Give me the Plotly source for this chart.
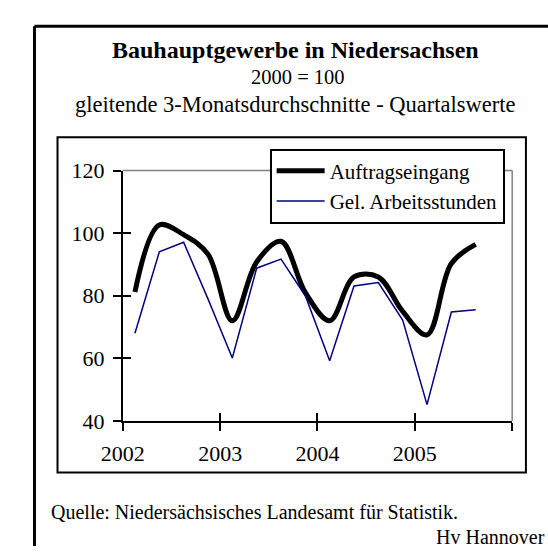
import plotly.graph_objects as go

# ---- data ----
quarters = ["2002 Q1", "2002 Q2", "2002 Q3", "2002 Q4",
            "2003 Q1", "2003 Q2", "2003 Q3", "2003 Q4",
            "2004 Q1", "2004 Q2", "2004 Q3", "2004 Q4",
            "2005 Q1", "2005 Q2", "2005 Q3"]
auftragseingang = [81.2, 102.6, 99.5, 93.3,
                   72.0, 90.8, 97.4, 81.0,
                   72.0, 86.0, 86.0, 75.0,
                   67.5, 90.3, 96.4]
arbeitsstunden = [68.0, 94.0, 97.1, 79.0,
                  60.1, 88.8, 91.7, 80.0,
                  59.2, 83.1, 84.2, 72.2,
                  45.2, 74.8, 75.5]
year_ticks = [2002, 2003, 2004, 2005, 2006]
year_labels = ["2002", "2003", "2004", "2005", ""]
y_ticks = [40, 60, 80, 100, 120]

# numeric position of each quarter (centred in its quarter slot)
xpos = [int(q[:4]) + (int(q[-1]) - 0.5) / 4 for q in quarters]

W, H = 548, 559
FONT = "Liberation Serif, Times New Roman, serif"


def px(x):
    return x / W


def py(y):
    return 1 - y / H


fig = go.Figure()
fig.add_trace(go.Scatter(
    x=xpos, y=auftragseingang, name="Auftragseingang", mode="lines",
    line=dict(color="black", width=5, shape="spline", smoothing=1.0),
))
fig.add_trace(go.Scatter(
    x=xpos, y=arbeitsstunden, name="Gel. Arbeitsstunden", mode="lines",
    line=dict(color="#000080", width=1.5),
))
# helper trace so that the overlaying axes (inner tick halves) are drawn
fig.add_trace(go.Scatter(x=[], y=[], xaxis="x2", yaxis="y2",
                         showlegend=False, hoverinfo="skip"))

x0p, x1p = 105, 510.7
y0p, y1p = 166, 428
xdom = [px(x0p), px(x1p)]
ydom = [py(y1p), py(y0p)]

axis_common = dict(showgrid=False, zeroline=False, linecolor="black",
                   linewidth=2, showline=True, tickcolor="black",
                   tickwidth=2, ticklen=8,
                   tickfont=dict(family=FONT, size=22, color="black"))

fig.update_layout(
    width=W, height=H,
    margin=dict(l=0, r=0, t=0, b=0),
    paper_bgcolor="white", plot_bgcolor="white",
    font=dict(family=FONT, color="black"),
    xaxis=dict(domain=xdom, range=[2002, 2006], tickmode="array",
               tickvals=year_ticks, ticktext=year_labels, ticks="outside",
               anchor="y", ticklabelstandoff=4, **axis_common),
    xaxis2=dict(domain=xdom, range=[2002, 2006], overlaying="x",
                anchor="y", side="bottom", tickmode="array",
                tickvals=year_ticks, ticks="inside", showticklabels=False,
                **axis_common),
    yaxis=dict(domain=ydom, range=[40, 120], tickmode="array",
               tickvals=y_ticks, ticks="outside", anchor="x",
               ticklabelstandoff=4, **axis_common),
    yaxis2=dict(domain=ydom, range=[40, 120], overlaying="y",
                anchor="x", side="left", tickmode="array",
                tickvals=y_ticks, ticks="inside", showticklabels=False,
                **axis_common),
    legend=dict(x=px(258), y=py(143), xanchor="left", yanchor="top",
                bgcolor="white", bordercolor="black", borderwidth=2,
                font=dict(family=FONT, size=21, color="black"),
                itemwidth=48, tracegroupgap=0),
    showlegend=True,
)

shapes = [
    # outer frame (only top and left edges fall inside the picture)
    dict(type="line", xref="paper", yref="paper",
         x0=px(13), x1=1, y0=py(15), y1=py(15),
         line=dict(color="black", width=3)),
    dict(type="line", xref="paper", yref="paper",
         x0=px(13), x1=px(13), y0=py(15), y1=0,
         line=dict(color="black", width=3)),
    # inner frame
    dict(type="rect", xref="paper", yref="paper",
         x0=px(37), x1=px(525), y0=py(131), y1=py(482),
         line=dict(color="black", width=2)),
    # gray plot-area border (top and right)
    dict(type="line", xref="x domain", yref="y domain",
         x0=0, x1=1, y0=1, y1=1, line=dict(color="#808080", width=1.5),
         layer="below"),
    dict(type="line", xref="x domain", yref="y domain",
         x0=1, x1=1, y0=0, y1=1, line=dict(color="#808080", width=1.5),
         layer="below"),
]
fig.update_layout(shapes=shapes)

annotations = [
    dict(text="<b>Bauhauptgewerbe in Niedersachsen</b>", x=px(285), y=py(40),
         font=dict(size=24)),
    dict(text="2000 = 100", x=px(288), y=py(68), font=dict(size=20.5)),
    dict(text="gleitende 3-Monatsdurchschnitte - Quartalswerte",
         x=px(284), y=py(97), font=dict(size=22.5)),
    dict(text="Quelle: Niedersächsisches Landesamt für Statistik.",
         x=px(28), y=py(523), xanchor="left", font=dict(size=20)),
    dict(text="Hv Hannover", x=px(547), y=py(550), xanchor="right",
         font=dict(size=20)),
]
for a in annotations:
    a.update(xref="paper", yref="paper", showarrow=False,
             yanchor="middle")
    a.setdefault("xanchor", "center")
    a["font"].update(family=FONT, color="black")
fig.update_layout(annotations=annotations)

fig.write_html(
    "out.html",
    config={"displayModeBar": False},
    post_script=("document.documentElement.style.margin='0';"
                 "document.body.style.margin='0';"
                 "document.body.style.overflow='hidden';"),
)
